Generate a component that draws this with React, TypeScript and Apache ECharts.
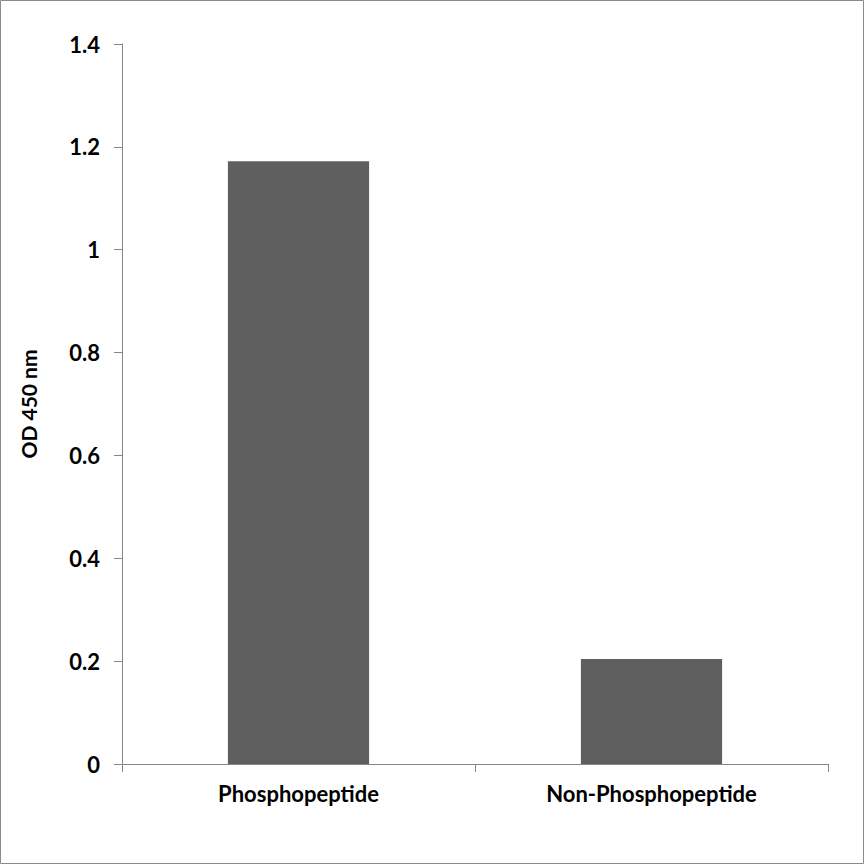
import { useEffect, useRef } from 'react';
import * as echarts from 'echarts';

const categories = ['Phosphopeptide', 'Non-Phosphopeptide'];
const odValues = [1.172, 0.204];
const yTicks = [0, 0.2, 0.4, 0.6, 0.8, 1, 1.2, 1.4];

const FONT = 'Lato, "Open Sans", sans-serif';

export default function App() {
  const chartRef = useRef<HTMLDivElement>(null);

  useEffect(() => {
    document.body.style.margin = '0';
    if (!chartRef.current) return;
    const chart = echarts.init(chartRef.current, undefined, { renderer: 'svg' });

    const option: echarts.EChartsOption = {
      animation: false,
      backgroundColor: '#ffffff',
      grid: { left: 122, right: 37, top: 44, bottom: 101, containLabel: false },
      graphic: [
        {
          type: 'rect',
          shape: { x: 0.5, y: 0.5, width: 863, height: 863 },
          style: { fill: 'none', stroke: '#8a8a8a', lineWidth: 1 },
          silent: true,
        },
      ],
      xAxis: {
        type: 'category',
        data: categories,
        axisLine: { lineStyle: { color: '#868686', width: 1 } },
        axisTick: { show: true, length: 8, lineStyle: { color: '#868686' } },
        axisLabel: {
          margin: 18,
          color: '#000000',
          fontFamily: FONT,
          fontWeight: 'bold',
          fontSize: 22,
        },
        splitLine: { show: false },
      },
      yAxis: {
        type: 'value',
        min: 0,
        max: 1.4,
        interval: 0.2,
        name: 'OD 450 nm',
        nameLocation: 'middle',
        nameRotate: 90,
        nameGap: 83,
        nameTextStyle: {
          color: '#000000',
          fontFamily: FONT,
          fontWeight: 'bold',
          fontSize: 21,
        },
        axisLine: { show: true, lineStyle: { color: '#868686', width: 1 } },
        axisTick: { show: true, inside: false, length: 8, lineStyle: { color: '#868686' } },
        axisLabel: {
          margin: 22,
          color: '#000000',
          fontFamily: FONT,
          fontWeight: 'bold',
          fontSize: 22,
          formatter: (v: number) => {
            const hit = yTicks.find((t) => Math.abs(t - v) < 1e-9);
            return hit === undefined ? '' : String(hit);
          },
        },
        splitLine: { show: false },
      },
      series: [
        {
          type: 'bar',
          data: odValues,
          barWidth: '40%',
          itemStyle: { color: '#5f5f5f' },
          emphasis: { disabled: true },
        },
      ],
    };

    chart.setOption(option);

    return () => {
      chart.dispose();
    };
  }, []);

  return <div ref={chartRef} style={{ width: 865, height: 865 }} />;
}
